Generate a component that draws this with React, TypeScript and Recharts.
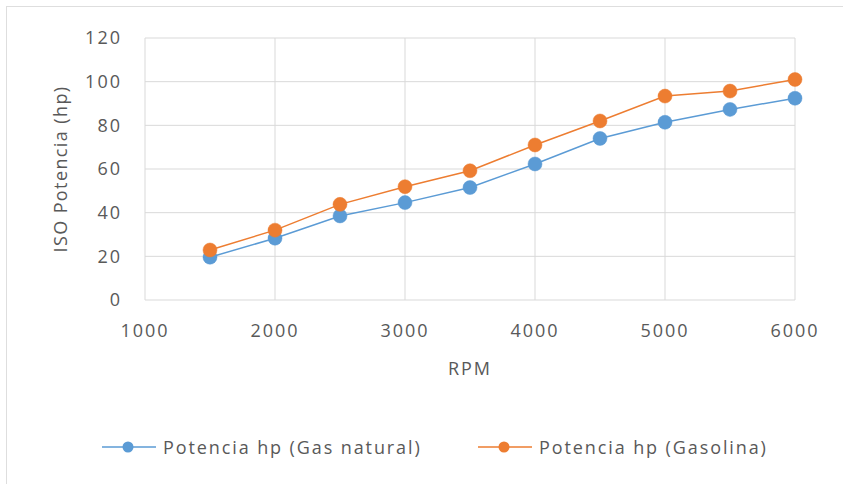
import React from 'react';
import { LineChart, Line, XAxis, YAxis, CartesianGrid } from 'recharts';

const rpm = [1500, 2000, 2500, 3000, 3500, 4000, 4500, 5000, 5500, 6000];
const gasNatural = [19.6, 28.3, 38.5, 44.6, 51.5, 62.3, 74, 81.4, 87.3, 92.4];
const gasolina = [22.9, 32, 43.8, 51.9, 59.2, 71, 82, 93.4, 95.7, 101];
const xTicks = [1000, 2000, 3000, 4000, 5000, 6000];
const yTicks = [0, 20, 40, 60, 80, 100, 120];

const seriesNames = ['Potencia hp (Gas natural)', 'Potencia hp (Gasolina)'];
const colors = ['#5B9BD5', '#ED7D31'];

const data = rpm.map((r, i) => ({ rpm: r, gn: gasNatural[i], gs: gasolina[i] }));

const FONT = '"Open Sans", "DejaVu Sans", sans-serif';
const TEXT = '#595959';

const YLabel = (props: any) => {
  const vb = props.viewBox || {};
  const cx = vb.x + 60;
  const cy = vb.y + vb.height / 2;
  return (
    <text
      x={cx}
      y={cy}
      transform={`rotate(-90 ${cx} ${cy})`}
      textAnchor="middle"
      dominantBaseline="central"
      fill={TEXT}
      fontSize={18}
      fontFamily={FONT}
      letterSpacing={1.4}
    >
      ISO Potencia (hp)
    </text>
  );
};

const LegendItem = ({ color, label, width }: { color: string; label: string; width: number }) => (
  <div style={{ display: 'flex', alignItems: 'center' }}>
    <svg width={54} height={14} style={{ marginRight: 7 }}>
      <line x1={0} y1={7} x2={54} y2={7} stroke={color} strokeWidth={1.5} />
      <circle cx={26} cy={7} r={5.5} fill={color} />
    </svg>
    <span style={{ fontSize: 18, color: TEXT, fontFamily: FONT, letterSpacing: 1.9, width, whiteSpace: 'nowrap' }}>{label}</span>
  </div>
);

const tickStyle = { fill: TEXT, fontSize: 18, fontFamily: FONT, letterSpacing: 2 };

export default function App() {
  return (
    <div style={{ position: 'absolute', left: 0, top: 0, width: 843, height: 484, overflow: 'hidden', background: '#fff' }}>
      <div
        style={{
          position: 'absolute',
          left: 6,
          top: 6,
          width: 860,
          height: 500,
          border: '1px solid #dedede',
        }}
      />
      <div style={{ position: 'absolute', left: 0, top: 0 }}>
        <LineChart width={843} height={484} data={data} margin={{ top: 38, right: 48, left: 0, bottom: 154 }}>
          <CartesianGrid stroke="#d9d9d9" strokeWidth={1} vertical horizontal />
          <XAxis
            dataKey="rpm"
            type="number"
            domain={[1000, 6000]}
            ticks={xTicks}
            interval={0}
            axisLine={false}
            tickLine={false}
            tickSize={0}
            tickMargin={24}
            height={30}
            tick={tickStyle}
            label={{ value: 'RPM', position: 'bottom', offset: 32, fill: TEXT, fontSize: 18, fontFamily: FONT, letterSpacing: 2 }}
          />
          <YAxis
            type="number"
            domain={[0, 120]}
            ticks={yTicks}
            interval={0}
            axisLine={false}
            tickLine={false}
            tickSize={0}
            tickMargin={23}
            width={145}
            tick={tickStyle}
            label={<YLabel />}
          />
          <Line
            dataKey="gn"
            name={seriesNames[0]}
            stroke={colors[0]}
            strokeWidth={1.5}
            dot={{ r: 7, fill: colors[0], stroke: colors[0], strokeWidth: 0.5 }}
            isAnimationActive={false}
          />
          <Line
            dataKey="gs"
            name={seriesNames[1]}
            stroke={colors[1]}
            strokeWidth={1.5}
            dot={{ r: 7, fill: colors[1], stroke: colors[1], strokeWidth: 0.5 }}
            isAnimationActive={false}
          />
        </LineChart>
      </div>
      <div style={{ position: 'absolute', left: 102, top: 435, display: 'flex', alignItems: 'center' }}>
        <LegendItem color={colors[0]} label={seriesNames[0]} width={315} />
        <LegendItem color={colors[1]} label={seriesNames[1]} width={240} />
      </div>
    </div>
  );
}
